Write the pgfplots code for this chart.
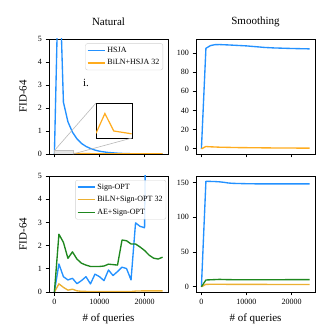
\documentclass[border=0pt]{standalone}
\usepackage{fontspec}
\setmainfont{Liberation Serif}
\usepackage{pgfplots}
\pgfplotsset{compat=1.18}

\definecolor{cblue}{RGB}{35,145,255}
\definecolor{corange}{RGB}{255,172,30}
\definecolor{corange2}{RGB}{236,176,50}
\definecolor{cgreen}{RGB}{30,135,30}

\pgfplotsset{
  panel/.style={
    scale only axis, width=119pt,
    xmin=-1200, xmax=25200,
    xtick={0,10000,20000},
    scaled x ticks=false,
    axis line style={line width=0.8pt},
    tick style={line width=0.7pt, black},
    major tick length=3.5pt,
    tick align=outside,
    xtick pos=bottom, ytick pos=left,
    ticklabel style={font=\fontsize{8}{9}\selectfont},
    /pgf/number format/assume math mode=true,
    /pgf/number format/1000 sep={},
    label style={font=\fontsize{11}{13}\selectfont},
    title style={font=\fontsize{11}{13}\selectfont, at={(axis description cs:0.5,1.1)}, anchor=center},
    ylabel style={at={(axis description cs:-0.218,0.5)}, anchor=center},
    xlabel style={at={(axis description cs:0.5,-0.233)}, anchor=center},
    every axis plot/.append style={line width=1.35pt, line join=round},
    legend style={font=\fontsize{8}{9}\selectfont, draw=black!18, rounded corners=2pt,
      fill=white, fill opacity=0.85, text opacity=1, draw opacity=1, anchor=north east,
      row sep=1.8pt, inner sep=1.5pt, cells={anchor=west}},
    legend cell align=left,
  },
}

\begin{document}
\begin{tikzpicture}
\path[use as bounding box] (0pt,0pt) rectangle (325pt,334pt);

% top left: Natural
\begin{axis}[panel, name=tl, at={(49pt,180pt)}, anchor=south west, height=115pt,
  ymin=0, ymax=5, ytick={0,1,2,3,4,5}, xticklabels={},
  title={Natural}, ylabel={FID-64},
  legend style={at={(0.958,0.962)}}]
\addplot[cblue] coordinates {(0,0)(1000,8.7)(2000,2.25)(3000,1.4)(4000,0.95)(5000,0.66)(6000,0.46)(7000,0.33)(8000,0.24)(9000,0.17)(10000,0.12)(11000,0.09)(12000,0.065)(13000,0.05)(14000,0.035)(15000,0.025)(16000,0.018)(17000,0.013)(18000,0.01)(19000,0.008)(20000,0.006)(21000,0.004)(22000,0.003)(23000,0.002)(24000,0.002)};
\addlegendentry{HSJA}
\addplot[corange] coordinates {(0,0.02)(1000,0.105)(2000,0.03)(3000,0.024)(4000,0.018)(5000,0.016)(6000,0.015)(8000,0.014)(10000,0.013)(12000,0.012)(16000,0.011)(20000,0.01)(24000,0.01)};
\addlegendentry{BiLN+HSJA 32}
\draw[black!25, fill=black!10, line width=0.6pt] (axis cs:0,0) rectangle (axis cs:4100,0.15);
\coordinate (r1) at (axis cs:0,0.15);
\coordinate (r2) at (axis cs:4100,0);
\node[font=\fontsize{11}{13}\selectfont] at (axis cs:7000,3.07) {i.};
\end{axis}

\begin{axis}[name=ins, at={(96pt,196pt)}, anchor=south west, scale only axis,
  width=36pt, height=35pt, xmin=0, xmax=4050, ymin=0, ymax=0.15,
  ticks=none, axis line style={line width=0.9pt},
  axis background/.style={fill=white}]
\addplot[corange, line width=1.2pt] coordinates {(0,0.02)(1000,0.105)(2000,0.03)(3000,0.024)(4000,0.018)};
\end{axis}
\draw[black!28, line width=0.6pt] (r1) -- (ins.north west);
\draw[black!28, line width=0.6pt] (r2) -- (ins.south east);

% top right: Smoothing
\begin{axis}[panel, at={(196pt,180pt)}, anchor=south west, height=115pt,
  ymin=-5.4, ymax=114.5, ytick={0,20,40,60,80,100}, xticklabels={},
  title={Smoothing}]
\addplot[cblue] coordinates {(0,0)(1000,104.8)(2000,107.6)(3000,108.6)(4000,108.7)(6000,108.3)(8000,107.8)(10000,107.3)(12000,106.5)(14000,105.7)(16000,105.2)(18000,104.9)(20000,104.6)(22000,104.4)(24000,104.2)};
\addplot[corange] coordinates {(0,0)(1000,2.4)(2000,2.1)(4000,1.7)(8000,1.3)(12000,1.1)(16000,0.9)(20000,0.8)(24000,0.7)};
\end{axis}

% bottom left
\begin{axis}[panel, at={(49pt,42pt)}, anchor=south west, height=116pt,
  ymin=0, ymax=5, ytick={0,1,2,3,4,5},
  ylabel={FID-64}, xlabel={\# of queries},
  legend style={at={(0.985,0.965)}}]
\addplot[cblue] coordinates {(0,0)(1000,1.21)(2000,0.66)(3000,0.52)(4000,0.59)(5000,0.36)(6000,0.49)(7000,0.66)(8000,0.35)(9000,0.77)(10000,0.66)(11000,0.49)(12000,0.95)(13000,0.71)(14000,0.88)(15000,1.07)(16000,1.01)(17000,0.52)(18000,2.98)(19000,2.83)(20000,2.77)(21000,20)(22000,21)(23000,21)(24000,22)};
\addlegendentry{Sign-OPT}
\addplot[corange2] coordinates {(0,0)(1000,0.35)(2000,0.2)(3000,0.08)(4000,0.12)(5000,0.05)(6000,0.03)(8000,0.02)(10000,0.02)(12000,0.02)(14000,0.02)(16000,0.02)(17000,0.02)(18000,0.04)(20000,0.05)(22000,0.05)(24000,0.05)};
\addlegendentry{BiLN+Sign-OPT 32}
\addplot[cgreen] coordinates {(0,0)(1000,2.49)(2000,2.14)(3000,1.45)(4000,1.73)(5000,1.42)(6000,1.24)(7000,1.16)(8000,1.1)(9000,1.1)(10000,1.1)(11000,1.12)(12000,1.2)(13000,1.18)(14000,1.16)(15000,2.24)(16000,2.21)(17000,2.07)(18000,2.07)(19000,1.94)(20000,1.79)(21000,1.59)(22000,1.46)(23000,1.42)(24000,1.5)};
\addlegendentry{AE+Sign-OPT}
\end{axis}

% bottom right
\begin{axis}[panel, at={(196pt,42pt)}, anchor=south west, height=116pt,
  ymin=-7.6, ymax=159.6, ytick={0,50,100,150},
  xlabel={\# of queries}]
\addplot[cblue] coordinates {(0,0)(1000,152)(2000,151.8)(3000,151.6)(4000,151.2)(5000,150.5)(6000,149.5)(7000,149)(8000,148.8)(10000,148.5)(12000,148.3)(16000,148.2)(20000,148.2)(24000,148.2)};
\addplot[corange2] coordinates {(0,0)(1000,3.4)(2000,3.5)(4000,3.5)(8000,3.4)(16000,3.3)(24000,3.3)};
\addplot[cgreen] coordinates {(0,0)(1000,9.7)(2000,10)(3000,10.3)(4000,10.6)(5000,10.4)(6000,10.2)(8000,10.1)(12000,10.1)(16000,10.1)(20000,10.2)(24000,10.2)};
\end{axis}
\end{tikzpicture}
\end{document}
